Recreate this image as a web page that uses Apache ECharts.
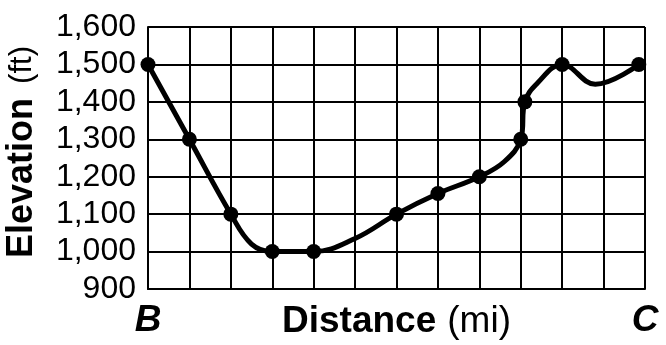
<!DOCTYPE html>
<html>
<head>
<meta charset="UTF-8">
<title>elevation profile</title>
<script src="https://cdn.jsdelivr.net/npm/echarts@6/dist/echarts.min.js"></script>
<style>
  html, body { margin: 0; padding: 0; background: #fff; }
  #main { width: 666px; height: 345px; }
</style>
</head>
<body>
<div id="main"></div>
<script>
// measured points (dots) along the trail, distance in grid units
var dotDist = [0, 1, 2, 3, 4, 6, 7, 8, 9, 9.1, 10, 11.85];
var dotElev = [1500, 1300, 1100, 1000, 1000, 1100, 1155, 1200, 1300, 1400, 1500, 1500];

// points (includes the dots plus bends between them)
var curveDist = [0, 1, 2, 2.5, 3, 4, 5, 6, 7, 8, 8.6, 9, 9.1, 9.4, 10, 10.8, 11.85];
var curveElev = [1500, 1300, 1100, 1020, 1000, 1000, 1035, 1100, 1155, 1200, 1240, 1300, 1400, 1450, 1500, 1447, 1500];

var yTicks = [900, 1000, 1100, 1200, 1300, 1400, 1500, 1600];
var endLabels = { 0: 'B', 12: 'C' };

function pairs(xs, ys) {
  var out = [];
  for (var i = 0; i < xs.length; i++) out.push([xs[i], ys[i]]);
  return out;
}

var chart = echarts.init(document.getElementById('main'));

var option = {
  backgroundColor: '#fff',
  animation: false,
  grid: { left: 148, right: 21, top: 27, bottom: 56, containLabel: false, outerBoundsMode: 'none' },
  xAxis: {
    type: 'value',
    min: 0, max: 12, interval: 1,
    axisLine: { lineStyle: { color: '#000', width: 2 } },
    axisTick: { show: false },
    splitLine: { show: true, lineStyle: { color: '#000', width: 2 } },
    axisLabel: {
      margin: 13,
      color: '#000',
      fontFamily: 'Liberation Sans',
      fontSize: 37,
      fontStyle: 'italic',
      fontWeight: 'bold',
      showMinLabel: true,
      showMaxLabel: true,
      formatter: function (v) { return endLabels[v] || ''; }
    },
    name: '{b|Distance}{r|(mi)}',
    nameLocation: 'middle',
    nameGap: 14,
    nameMoveOverlap: false,
    nameTextStyle: {
      rich: {
        b: { fontFamily: 'Liberation Sans', fontSize: 37, fontWeight: 'bold', color: '#000' },
        r: { fontFamily: 'Liberation Sans', fontSize: 37, color: '#000', padding: [0, 0, 0, 11] }
      }
    }
  },
  yAxis: {
    type: 'value',
    min: yTicks[0], max: yTicks[yTicks.length - 1], interval: 100,
    axisLine: { show: true, lineStyle: { color: '#000', width: 2 } },
    axisTick: { show: false },
    splitLine: { show: true, lineStyle: { color: '#000', width: 2 } },
    axisLabel: {
      margin: 12,
      color: '#000',
      fontFamily: 'Liberation Sans',
      fontSize: 32,
      formatter: function (v) { return v.toLocaleString('en-US'); }
    },
    name: '{b|Elevation}{r|(ft)}',
    nameLocation: 'middle',
    nameGap: 108,
    nameRotate: 90,
    nameMoveOverlap: false,
    nameTextStyle: {
      padding: [0, 0, 0, 12],
      rich: {
        b: { fontFamily: 'Liberation Sans', fontSize: 36, fontWeight: 'bold', color: '#000' },
        r: { fontFamily: 'Liberation Sans', fontSize: 31, color: '#000', padding: [0, 0, 0, 14] }
      }
    }
  },
  series: [
    {
      type: 'line',
      data: pairs(curveDist, curveElev),
      smooth: 0.4,
      showSymbol: false,
      lineStyle: { color: '#000', width: 5 },
      z: 3
    },
    {
      type: 'scatter',
      data: pairs(dotDist, dotElev),
      symbol: 'circle',
      symbolSize: 15,
      itemStyle: { color: '#000', opacity: 1 },
      z: 4
    }
  ]
};

chart.setOption(option);
</script>
</body>
</html>
